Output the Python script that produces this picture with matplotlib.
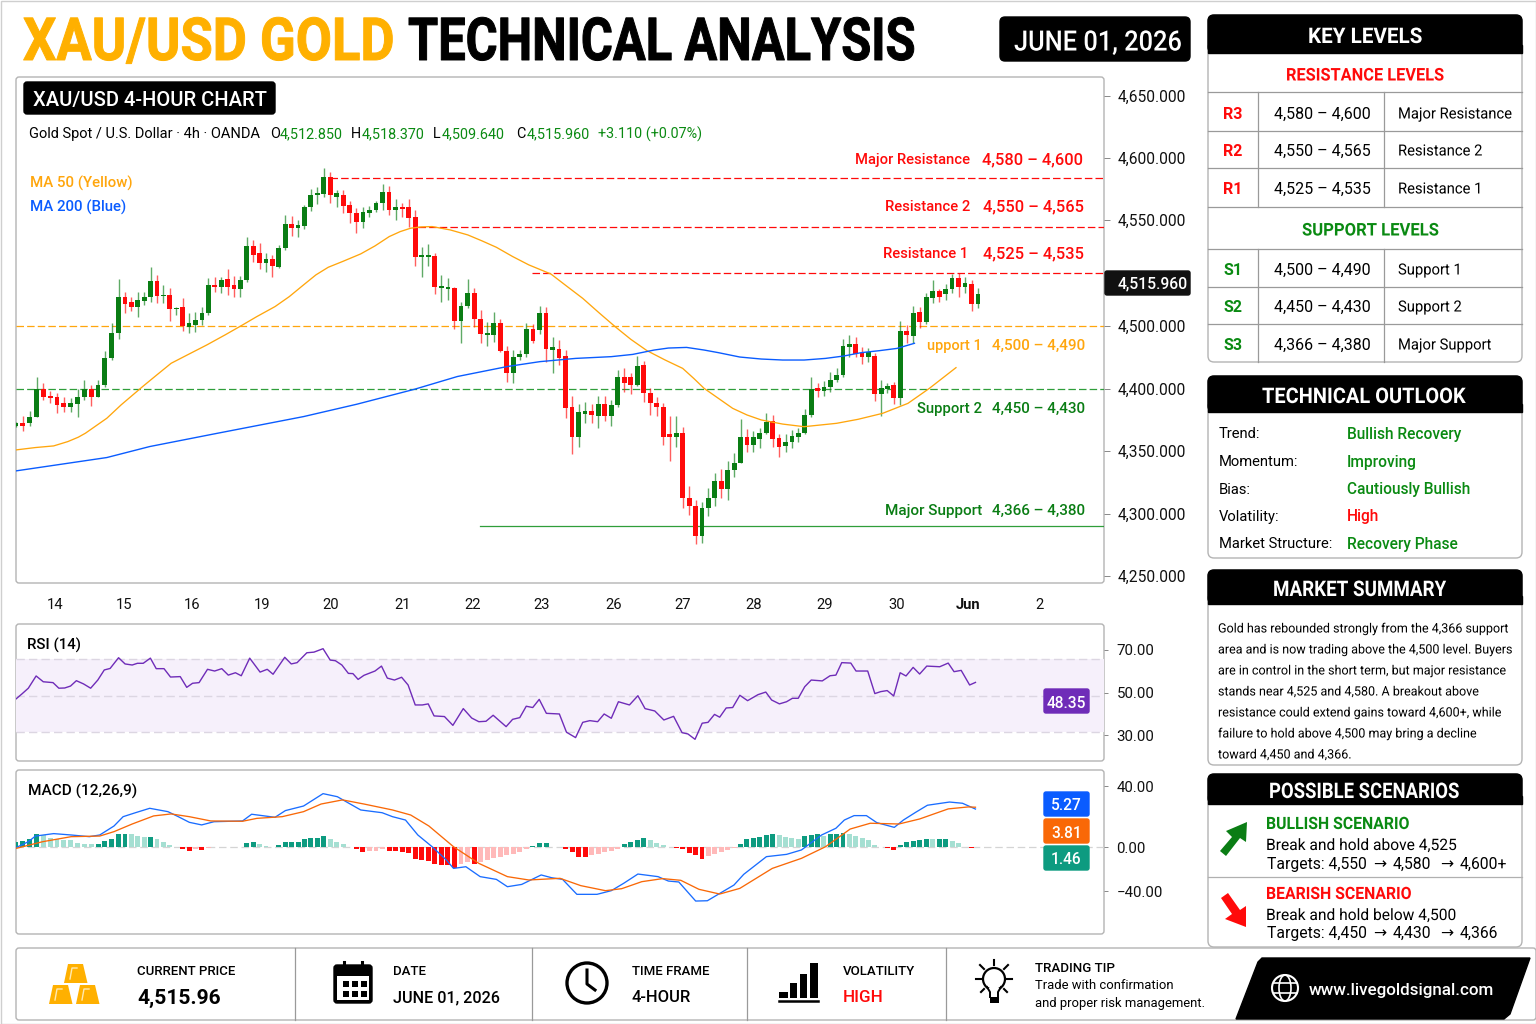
import numpy as np
import matplotlib
matplotlib.use('Agg')
import matplotlib.pyplot as plt
import matplotlib.patheffects as pe
from matplotlib.patches import FancyBboxPatch, Rectangle, Polygon, Circle, Ellipse
from matplotlib.transforms import Affine2D

plt.rcParams['font.family'] = ['Roboto', 'DejaVu Sans']

W, H = 1536, 1024

GREEN = '#0a7d14'
TXT_GREEN = '#0a8a12'
RED = '#ff0a0a'
GOLD = '#ffb000'
ORANGE = '#ffa60d'
BLUE = '#0a5cff'
PURPLE = '#6f2cb8'
TEAL = '#0d9b80'
TEAL_LIGHT = '#a5dfd2'
RED_LIGHT = '#ffb9b9'
EDGE = '#b4b4b4'

# candles, 4h bars. The axis in the picture is not evenly labelled,
# so tick positions and tick labels are kept apart below
opens = [4370.2, 4372.9, 4372.4, 4377.7, 4400.1, 4394.3, 4393.7, 4388.9, 4385.7, 4387.9,
         4393.2, 4399.6, 4393.7, 4403.1, 4424.4, 4444.5, 4473.3, 4469.6, 4465.8, 4470.6,
         4473.3, 4486.1, 4474.4, 4475.2, 4464.2, 4465.3, 4449.8, 4451.1, 4455.1, 4461.0,
         4483.4, 4481.8, 4487.7, 4483.4, 4479.7, 4487.2, 4514.4, 4508.5, 4501.1, 4504.0,
         4497.9, 4512.5, 4532.0, 4528.6, 4530.7, 4545.4, 4555.3, 4556.1, 4569.9, 4553.9,
         4555.3, 4547.0, 4541.1, 4533.9, 4540.6, 4543.3, 4548.6, 4557.9, 4543.3, 4545.4,
         4545.4, 4537.9, 4505.9, 4505.9, 4506.4, 4480.8, 4479.7, 4480.5, 4454.6, 4466.4,
         4477.0, 4456.2, 4442.9, 4443.1, 4452.5, 4430.6, 4413.0, 4425.2, 4427.9, 4447.7,
         4447.1, 4461.0, 4431.0, 4431.5, 4426.2, 4385.1, 4361.6, 4379.7, 4382.4, 4378.4,
         4387.8, 4378.1, 4386.7, 4409.1, 4409.1, 4403.2, 4418.7, 4396.8, 4388.3, 4385.6,
         4363.7, 4361.1, 4364.8, 4312.7, 4306.0, 4282.0, 4304.2, 4312.2, 4326.3, 4319.4,
         4334.9, 4340.8, 4361.1, 4354.9, 4359.5, 4364.8, 4373.9, 4360.3, 4354.1, 4357.3,
         4361.6, 4364.8, 4378.9, 4400.3, 4398.4, 4401.6, 4407.0, 4411.0, 4433.7, 4435.8,
         4428.3, 4425.7, 4426.2, 4395.8, 4399.5, 4403.0, 4392.6, 4446.5, 4442.2, 4461.5,
         4453.7, 4472.9, 4478.5, 4475.9, 4479.6, 4488.7, 4481.7, 4483.6, 4467.9]
closes = [4372.9, 4370.2, 4377.7, 4400.1, 4393.7, 4392.7, 4387.1, 4385.7, 4388.4, 4393.2,
          4399.6, 4393.7, 4403.1, 4424.4, 4444.5, 4473.3, 4468.0, 4465.8, 4471.2, 4473.3,
          4486.1, 4474.4, 4475.4, 4463.9, 4465.0, 4450.3, 4453.0, 4455.1, 4461.0, 4483.4,
          4481.8, 4487.2, 4481.3, 4479.7, 4487.2, 4514.4, 4507.2, 4500.5, 4504.0, 4498.4,
          4512.5, 4532.0, 4528.6, 4531.2, 4545.9, 4555.3, 4557.1, 4569.9, 4555.3, 4557.1,
          4546.5, 4540.6, 4533.9, 4541.6, 4543.3, 4548.6, 4557.9, 4543.3, 4545.4, 4543.8,
          4536.6, 4505.9, 4507.2, 4507.2, 4481.3, 4482.4, 4481.8, 4454.6, 4466.4, 4477.0,
          4456.2, 4443.9, 4445.0, 4452.5, 4430.6, 4413.0, 4425.2, 4427.9, 4447.7, 4438.6,
          4461.0, 4431.6, 4433.1, 4424.9, 4384.8, 4361.6, 4381.6, 4382.4, 4378.9, 4387.8,
          4378.1, 4387.2, 4409.1, 4404.8, 4403.2, 4418.2, 4396.8, 4388.8, 4385.1, 4361.6,
          4361.1, 4364.3, 4312.7, 4306.0, 4282.0, 4304.2, 4312.2, 4326.3, 4319.4, 4334.9,
          4340.8, 4361.1, 4354.9, 4361.1, 4364.8, 4373.3, 4359.5, 4353.0, 4357.3, 4362.1,
          4364.3, 4378.9, 4399.5, 4398.2, 4401.6, 4407.0, 4411.0, 4434.2, 4435.8, 4427.8,
          4425.1, 4429.4, 4395.8, 4400.3, 4402.4, 4392.6, 4446.5, 4443.0, 4460.9, 4453.7,
          4473.2, 4478.5, 4473.7, 4479.6, 4488.7, 4481.7, 4485.0, 4467.9, 4475.9]
highs = [4373.7, 4378.5, 4382.5, 4409.2, 4404.9, 4398.5, 4396.9, 4393.2, 4392.4, 4399.6,
         4407.1, 4402.8, 4407.1, 4430.6, 4452.5, 4487.7, 4477.6, 4473.3, 4477.8, 4477.8,
         4497.3, 4491.2, 4483.2, 4480.5, 4465.8, 4472.5, 4461.0, 4461.8, 4465.8, 4488.5,
         4489.3, 4489.8, 4495.7, 4490.4, 4490.4, 4521.4, 4519.2, 4516.5, 4509.1, 4507.2,
         4514.9, 4539.2, 4538.4, 4535.2, 4547.3, 4559.8, 4561.4, 4576.6, 4574.0, 4559.3,
         4559.3, 4550.7, 4544.6, 4545.9, 4546.5, 4550.7, 4564.1, 4562.5, 4551.8, 4548.6,
         4551.8, 4543.3, 4513.3, 4516.0, 4508.5, 4491.2, 4488.5, 4481.8, 4469.8, 4488.2,
         4480.5, 4463.1, 4453.8, 4461.8, 4455.7, 4434.3, 4431.1, 4431.1, 4452.5, 4452.0,
         4466.4, 4465.8, 4441.7, 4439.0, 4431.0, 4394.2, 4387.8, 4389.6, 4387.8, 4394.2,
         4394.2, 4391.0, 4415.0, 4416.3, 4412.3, 4426.2, 4422.5, 4400.3, 4393.6, 4388.8,
         4378.1, 4378.1, 4369.1, 4322.1, 4310.9, 4309.5, 4320.2, 4332.2, 4335.4, 4342.4,
         4348.8, 4375.5, 4367.5, 4366.4, 4368.3, 4380.8, 4378.9, 4363.7, 4363.7, 4366.9,
         4368.3, 4383.5, 4409.6, 4404.3, 4406.4, 4413.7, 4416.3, 4439.6, 4442.8, 4441.2,
         4433.1, 4432.3, 4428.3, 4407.0, 4404.3, 4405.6, 4454.5, 4451.0, 4466.3, 4465.2,
         4476.9, 4487.1, 4479.6, 4483.9, 4491.9, 4492.4, 4489.7, 4487.1, 4480.4]
lows = [4369.7, 4366.5, 4370.2, 4377.2, 4391.1, 4388.4, 4380.9, 4381.7, 4381.7, 4377.7,
        4391.1, 4386.3, 4393.2, 4401.7, 4423.1, 4439.7, 4460.5, 4462.6, 4457.8, 4466.9,
        4469.8, 4469.0, 4469.0, 4454.6, 4459.1, 4446.6, 4444.5, 4445.8, 4451.1, 4459.1,
        4477.8, 4477.0, 4475.2, 4473.8, 4473.3, 4485.8, 4501.9, 4495.7, 4493.9, 4489.3,
        4496.5, 4511.2, 4522.4, 4521.9, 4528.0, 4542.7, 4548.1, 4553.9, 4549.1, 4545.4,
        4540.6, 4532.6, 4524.6, 4528.6, 4537.4, 4541.9, 4543.3, 4539.2, 4535.2, 4537.9,
        4529.9, 4498.4, 4489.9, 4498.4, 4476.0, 4469.8, 4471.2, 4447.7, 4437.0, 4464.5,
        4449.8, 4436.5, 4434.3, 4437.8, 4429.8, 4405.7, 4404.9, 4423.1, 4425.8, 4436.5,
        4443.9, 4421.8, 4412.9, 4419.0, 4376.3, 4347.4, 4353.6, 4372.3, 4372.8, 4368.8,
        4374.4, 4370.4, 4385.6, 4397.6, 4395.8, 4402.2, 4389.6, 4378.9, 4378.1, 4354.9,
        4342.4, 4353.6, 4304.2, 4298.8, 4275.6, 4276.7, 4298.0, 4306.0, 4312.2, 4310.9,
        4329.0, 4340.8, 4349.6, 4349.6, 4352.2, 4363.7, 4353.0, 4345.6, 4349.6, 4352.2,
        4357.6, 4363.7, 4377.6, 4393.6, 4394.2, 4397.6, 4405.6, 4409.6, 4425.7, 4425.7,
        4419.8, 4421.7, 4390.4, 4378.1, 4396.3, 4387.8, 4387.0, 4436.9, 4436.9, 4448.4,
        4451.8, 4468.4, 4469.7, 4471.1, 4476.9, 4473.7, 4476.4, 4462.5, 4464.4]
# the candles are not quite evenly spaced in the picture: bar number -> place on the axis
spacing_bar = [0, 15, 47, 81, 102, 122, 136, 148]
spacing_pos = [-0.1, 15.7, 47.3, 81.55, 102.6, 122.4, 136.1, 148.1]

# moving averages
ma50_bar = [-0.1, 2.9, 5.7, 7.9, 9.5, 10.6, 11.7, 13.9, 16.1, 19.4, 21.6, 23.8, 26.6, 29.3, 32.1,
            34.8, 37.0, 39.8, 42.0, 44.2, 46.1, 48.0, 50.2, 53.0, 55.2, 57.4, 59.1, 60.7, 62.3,
            64.0, 66.8, 69.5, 71.7, 73.9, 76.4, 78.9, 82.3, 84.7, 87.2, 89.7, 92.2, 94.6, 97.1,
            99.9, 102.6, 104.3, 105.9, 108.1, 110.3, 112.5, 114.7, 118.0, 121.3, 126.3, 129.6,
            133.4, 137.3, 140.6, 144.7]
ma50 = [4351.0, 4352.9, 4354.2, 4357.7, 4361.2, 4364.4, 4368.4, 4376.4, 4387.1, 4401.7, 4411.1,
        4420.4, 4427.9, 4435.1, 4443.1, 4451.1, 4457.8, 4465.8, 4473.8, 4483.2, 4491.2, 4497.3,
        4501.9, 4508.0, 4514.4, 4521.9, 4525.9, 4528.6, 4529.6, 4529.9, 4527.2, 4523.2, 4518.4,
        4513.3, 4505.9, 4499.2, 4491.9, 4482.3, 4472.4, 4460.9, 4449.7, 4439.6, 4430.5, 4423.0,
        4416.3, 4408.3, 4400.3, 4392.3, 4384.3, 4379.0, 4375.0, 4371.7, 4369.6, 4372.3, 4375.5,
        4380.3, 4388.3, 4400.3, 4416.9]
ma200_bar = [-0.1, 13.9, 20.5, 30.4, 44.2, 52.4, 61.3, 67.9, 75.6, 80.6, 86.1, 91.6, 94.9, 98.2,
             100.4, 103.2, 105.9, 108.1, 111.4, 114.7, 118.0, 121.3, 124.6, 127.4, 130.1, 132.9,
             135.6, 138.3]
ma200 = [4334.2, 4344.9, 4353.7, 4363.8, 4377.7, 4387.6, 4399.6, 4409.8, 4417.8, 4421.7, 4424.3,
         4425.7, 4427.5, 4431.0, 4432.6, 4433.1, 4431.0, 4428.9, 4425.4, 4423.8, 4423.0, 4423.0,
         4424.3, 4426.2, 4428.9, 4430.5, 4432.3, 4436.4]

# horizontal levels as drawn
level_y = [4568.8, 4529.6, 4492.7, 4450.3, 4399.8, 4290.0]
level_from = [48.3, 61.8, 79.4, -0.1, -0.1, 71.4]
level_col = [RED, RED, RED, ORANGE, '#2f9e3a', '#2f9e3a']

price_ticks = [4634.5, 4584.8, 4535.2, 4450.3, 4399.8, 4350.1, 4299.7, 4250.0]
price_labels = ['4,650.000', '4,600.000', '4,550.000', '4,500.000', '4,400.000', '4,350.000',
                '4,300.000', '4,250.000']
day_ticks = [5.9, 16.5, 27.1, 37.8, 48.4, 59.4, 70.3, 80.9, 91.9, 102.6, 113.6, 124.5, 135.5,
             146.6, 157.5]
day_labels = ['14', '15', '16', '19', '20', '21', '22', '23', '26', '27', '28', '29', '30', 'Jun', '2']

rsi_bar = [-0.1, 0.8, 1.8, 3.0, 4.1, 5.6, 6.5, 7.4, 8.3, 9.2, 10.3, 11.4, 12.5, 13.5, 14.4, 15.7,
           16.7, 17.8, 18.6, 19.5, 20.6, 21.5, 22.7, 23.7, 25.2, 26.2, 27.1, 28.1, 29.4, 30.5,
           31.6, 32.6, 33.7, 34.6, 35.9, 37.5, 38.6, 39.5, 41.3, 42.3, 43.2, 44.7, 45.8, 47.2,
           48.3, 49.1, 50.1, 51.1, 51.8, 52.6, 53.5, 55.2, 56.2, 57.1, 58.2, 59.3, 60.3, 61.4,
           62.5, 63.4, 64.3, 65.9, 67.2, 68.8, 70.1, 71.2, 72.3, 73.4, 75.4, 76.4, 77.5, 78.5,
           79.5, 80.5, 81.6, 83.6, 84.7, 86.1, 87.2, 88.3, 89.5, 90.5, 91.6, 92.7, 94.4, 95.7,
           96.8, 98.3, 99.7, 101.2, 102.5, 103.4, 104.5, 105.6, 106.5, 107.5, 108.3, 109.3,
           110.3, 111.4, 112.6, 114.2, 115.4, 116.3, 117.5, 118.6, 119.5, 120.4, 121.4, 122.4,
           124.1, 125.3, 126.2, 127.1, 128.5, 129.3, 131.1, 132.2, 133.1, 134.1, 135.1, 136.1,
           137.0, 138.1, 139.1, 140.2, 142.2, 143.5, 144.4, 145.5, 146.8, 147.7]
rsi = [47.0, 49.3, 52.0, 57.7, 55.0, 54.6, 52.0, 52.1, 53.0, 55.5, 54.0, 52.0, 55.8, 60.5, 61.2,
       66.2, 63.3, 62.8, 63.6, 63.6, 66.0, 61.1, 61.1, 57.2, 57.4, 52.4, 54.3, 54.6, 60.8, 60.0,
       61.1, 58.1, 59.2, 57.8, 66.0, 59.5, 60.8, 58.5, 66.4, 63.3, 63.9, 68.5, 68.8, 70.4, 65.1,
       64.8, 62.8, 58.9, 58.8, 56.1, 58.0, 60.0, 62.3, 56.7, 55.8, 57.1, 53.5, 44.2, 44.2, 44.7,
       39.1, 38.8, 34.7, 42.5, 38.1, 36.4, 36.6, 39.4, 34.1, 37.5, 38.3, 43.6, 43.0, 46.8, 40.3,
       40.0, 31.5, 29.0, 36.1, 36.9, 36.4, 40.0, 38.0, 45.7, 44.2, 48.5, 42.5, 41.4, 37.2, 38.9,
       31.3, 30.7, 28.2, 35.7, 36.1, 39.8, 38.5, 42.8, 43.0, 48.7, 46.2, 49.0, 50.2, 46.5, 44.7,
       45.7, 47.3, 47.3, 52.7, 55.8, 55.4, 57.8, 58.1, 63.9, 63.7, 60.0, 60.0, 49.5, 50.4, 50.9,
       48.4, 59.2, 57.7, 61.7, 58.6, 62.3, 62.0, 63.7, 59.7, 60.3, 53.5, 54.7]
rsi_bands = [65.8, 48.6, 31.4]
rsi_ticks = [70, 50, 30]
rsi_labels = ['70.00', '50.00', '30.00']

macd_bar = [-0.1, 1.8, 2.9, 5.7, 8.4, 11.2, 12.8, 15.0, 16.4, 18.3, 20.5, 23.3, 24.9, 26.6, 28.5,
            30.4, 34.8, 36.2, 39.8, 41.4, 44.2, 47.2, 49.4, 53.0, 56.3, 57.9, 59.9, 61.8, 64.0,
            66.2, 67.3, 69.2, 71.4, 73.9, 75.6, 77.8, 80.8, 82.4, 84.1, 86.3, 89.4, 91.6, 93.5,
            95.7, 98.8, 100.4, 102.0, 104.6, 106.4, 110.5, 112.0, 115.5, 118.6, 120.9, 124.0,
            126.2, 127.5, 129.0, 130.9, 132.5, 135.2, 136.6, 138.5, 140.3, 143.7, 145.7, 147.7]
macd = [-0.4, 3.5, 7.2, 8.8, 7.9, 6.8, 7.9, 13.8, 19.9, 22.5, 25.4, 23.2, 19.9, 16.2, 14.5, 16.6,
        17.1, 21.5, 19.5, 23.9, 26.9, 35.0, 33.0, 24.3, 22.5, 19.9, 17.7, 7.9, 0.2, -8.5, -14.0,
        -12.9, -19.4, -21.2, -26.0, -24.5, -18.3, -20.1, -21.2, -31.0, -31.0, -28.6, -23.8, -17.7,
        -19.4, -22.3, -22.9, -35.4, -35.2, -24.9, -17.9, -6.3, -4.8, -1.9, 7.9, 12.3, 17.7, 20.6,
        20.6, 16.0, 12.9, 17.7, 22.8, 27.4, 29.5, 28.7, 24.9]
signal_bar = [-0.1, 4.0, 8.4, 12.8, 15.0, 17.8, 21.1, 23.8, 26.6, 29.9, 34.8, 37.0, 40.9, 44.2,
              46.9, 50.2, 53.5, 57.9, 60.7, 63.5, 67.3, 71.2, 75.6, 78.9, 83.7, 86.9, 90.7, 93.2,
              96.3, 99.5, 102.3, 105.1, 108.3, 111.4, 116.4, 120.9, 124.6, 128.4, 131.5, 135.9,
              139.1, 143.5, 146.6, 147.7]
signal = [-0.9, 3.5, 6.8, 7.2, 10.1, 15.1, 20.4, 21.7, 19.9, 17.1, 16.9, 18.8, 19.9, 23.2, 28.2,
          30.9, 28.2, 24.3, 21.0, 13.8, 0.2, -10.7, -19.4, -21.6, -20.5, -25.3, -28.6, -27.3,
          -22.7, -20.7, -21.8, -27.7, -30.8, -27.1, -14.0, -7.4, 0.2, 11.8, 15.6, 15.1, 18.4,
          25.0, 26.3, 26.1]
hist = [3.5, 3.9, 5.5, 8.3, 8.1, 6.1, 5.0, 4.6, 4.4, 2.8, 2.2, 1.7, 2.2, 3.9, 5.5, 8.7, 8.7, 8.3,
        7.4, 6.8, 6.8, 5.0, 3.3, 1.3, 0.2, -1.1, -2.4, -1.1, -2.2, -0.4, -0.2, 0.2, 0.2, 0.2, -0.2,
        2.8, 3.1, 1.7, 0.7, -0.2, 1.5, 3.3, 3.3, 3.5, 5.0, 5.9, 6.1, 7.0, 5.2, 3.5, 1.7, 0.2, -1.1,
        -3.3, -2.6, -2.4, -1.5, -2.4, -2.6, -3.1, -3.9, -7.7, -8.5, -9.2, -11.4, -11.8, -11.8,
        -13.6, -11.4, -9.8, -10.9, -9.6, -8.5, -7.0, -6.6, -5.5, -4.8, -3.3, -1.5, 0.7, 2.4, 2.4,
        -0.2, -0.2, -1.1, -3.3, -6.6, -6.8, -5.2, -4.6, -3.5, -2.4, -1.1, 1.7, 3.5, 4.4, 6.1, 4.8,
        2.6, 1.1, 0.2, -0.9, -1.3, -3.9, -5.5, -8.1, -6.1, -4.4, -3.5, -2.2, -0.4, 2.2, 5.2, 6.1,
        6.6, 8.1, 8.5, 8.1, 6.6, 5.9, 5.2, 7.0, 8.1, 8.7, 7.0, 8.7, 8.7, 9.2, 8.7, 7.0, 5.9, 4.8,
        1.1, 0.2, -0.9, -2.0, 1.5, 3.5, 3.7, 4.8, 5.5, 5.0, 5.0, 5.2, 3.7, 2.6, 0.1, -0.9]
macd_ticks = [40, 0, -29]
macd_labels = ['40.00', '0.00', '\u221240.00']

resist_rows = [('R3', '4,580 \u2013 4,600', 'Major Resistance'),
               ('R2', '4,550 \u2013 4,565', 'Resistance 2'),
               ('R1', '4,525 \u2013 4,535', 'Resistance 1')]
support_rows = [('S1', '4,500 \u2013 4,490', 'Support 1'),
                ('S2', '4,450 \u2013 4,430', 'Support 2'),
                ('S3', '4,366 \u2013 4,380', 'Major Support')]
outlook_names = ['Trend:', 'Momentum:', 'Bias:', 'Volatility:', 'Market Structure:']
outlook_vals = ['Bullish Recovery', 'Improving', 'Cautiously Bullish', 'High', 'Recovery Phase']
summary_lines = ['Gold has rebounded strongly from the 4,366 support',
                 'area and is now trading above the 4,500 level. Buyers',
                 'are in control in the short term, but major resistance',
                 'stands near 4,525 and 4,580. A breakout above',
                 'resistance could extend gains toward 4,600+, while',
                 'failure to hold above 4,500 may bring a decline',
                 'toward 4,450 and 4,366.']

fig = plt.figure(figsize=(W / 100, H / 100), dpi=100, facecolor='white')


class Reshape(pe.AbstractPathEffect):
    # the lettering in the picture is narrower than Roboto, no condensed face is installed
    def __init__(self, sx=1.0, sy=1.0, stroke=0.0):
        super().__init__()
        self.sx, self.sy, self.stroke = sx, sy, stroke

    def draw_path(self, renderer, gc, tpath, affine, rgbFace=None):
        gc0 = renderer.new_gc()
        gc0.copy_properties(gc)
        if self.stroke:
            gc0.set_foreground(rgbFace)
            gc0.set_linewidth(self.stroke)
        renderer.draw_path(gc0, tpath, Affine2D().scale(self.sx, self.sy) + affine, rgbFace)
        gc0.restore()


def page_axes(z):
    a = fig.add_axes([0, 0, 1, 1], zorder=z)
    a.set_xlim(0, W)
    a.set_ylim(H, 0)
    a.axis('off')
    a.patch.set_alpha(0)
    return a


def chart_axes(x0, y0, x1, y1):
    a = fig.add_axes([x0 / W, 1 - y1 / H, (x1 - x0) / W, (y1 - y0) / H], zorder=2)
    a.patch.set_alpha(0)
    for s in a.spines.values():
        s.set_visible(False)
    a.set_xlim(-0.1, 167.5)
    return a


back = page_axes(0)
front = page_axes(5)


def put(x, y, s, px, color='black', weight='normal', ha='left', va='center_baseline', sx=1.0, sy=1.0, stroke=0.0):
    # px is the font size in pixels of the 100 dpi picture
    t = front.text(x, y, s, fontsize=px * 0.72, color=color, fontweight=weight, ha=ha, va=va)
    if sx != 1.0 or sy != 1.0 or stroke:
        t.set_path_effects([Reshape(sx, sy, stroke)])
    return t


def rbox(x0, y0, x1, y1, r=4, fc='white', ec=EDGE, lw=1.0, ax=None, z=1):
    a = ax if ax is not None else back
    p = FancyBboxPatch((x0, y0), x1 - x0, y1 - y0, boxstyle='round,pad=0,rounding_size=%g' % r,
                       fc=fc, ec=ec, lw=lw, zorder=z)
    a.add_patch(p)
    return p


def card(x0, y0, x1, y1, head_bottom, title, title_x, sx):
    rbox(x0, y0, x1, y1, r=6)
    rbox(x0, y0, x1, head_bottom, r=6, fc='black', ec='black', z=2)
    back.add_patch(Rectangle((x0, head_bottom - 8), x1 - x0, 8, fc='black', ec='black', lw=1, zorder=2))
    put(title_x, (y0 + head_bottom) / 2 + 1.5, title, 21.5, color='white', weight='bold', sx=sx)


def tag(x0, y0, x1, y1, s, fc, px=15.5):
    rbox(x0, y0, x1, y1, r=2, fc=fc, ec=fc, ax=front, z=3)
    t = put((x0 + x1) / 2, (y0 + y1) / 2 + 0.5, s, px, color='white', weight='medium', ha='center')
    t.set_zorder(4)


# page frame and heading
back.add_patch(Rectangle((0.5, 0.5), W - 1, H - 1, fc='none', ec='#cfcfcf', lw=1))
put(23, 60, 'XAU/USD GOLD', 52.5, color=GOLD, weight='bold', va='baseline', sy=1.13, stroke=0.7)
put(408, 60, 'TECHNICAL ANALYSIS', 52.5, weight='bold', va='baseline', sx=0.93, sy=1.13, stroke=0.7)
rbox(1000, 17, 1190, 61, r=5, fc='black', ec='black')
put(1014, 40, 'JUNE 01, 2026', 28, color='white', weight='medium', sx=0.907)

# main price panel
rbox(16, 77, 1104, 583, r=3)
idx = np.interp(np.arange(len(opens)), spacing_bar, spacing_pos)
o, c = np.array(opens), np.array(closes)
cols = np.where(c >= o, GREEN, RED)

ax = chart_axes(16, 77, 1104, 583)
ax.set_ylim(4244.4, 4649.7)
for val, start, col in zip(level_y, level_from, level_col):
    style = '-' if val == level_y[-1] else (0, (6, 2.5))
    ax.plot([start, 167.5], [val, val], color=col, lw=0.9, ls=style, zorder=1)
ax.vlines(idx, lows, highs, colors=cols, lw=1.0, alpha=0.65, zorder=2)
ax.bar(idx, np.maximum(np.abs(c - o), 0.8), bottom=np.minimum(o, c), width=0.74, color=cols, lw=0, zorder=3)
ax.plot(ma50_bar, ma50, color=ORANGE, lw=0.95, zorder=4)
ax.plot(ma200_bar, ma200, color=BLUE, lw=1.0, zorder=4)
ax.yaxis.tick_right()
ax.set_yticks(price_ticks)
ax.set_yticklabels(price_labels, fontsize=11.2, color='#111111')
ax.tick_params(axis='y', length=4, width=0.7, color='#888888', pad=6)
ax.set_xticks(day_ticks)
ax.set_xticklabels(day_labels, fontsize=10.6, color='#111111')
ax.tick_params(axis='x', length=0, pad=10.6)
ax.get_xticklabels()[13].set_fontweight('bold')

rbox(24, 82, 275, 114, r=3, fc='black', ec='black', ax=front)
put(33, 98.5, 'XAU/USD 4-HOUR CHART', 20.2, color='white', weight='medium')
put(29, 132.5, 'Gold Spot / U.S. Dollar \u00b7 4h \u00b7 OANDA', 14.6)
for x, s, col in [(270, 'O', 'black'), (280, '4,512.850', TXT_GREEN), (351, 'H', 'black'),
                  (362, '4,518.370', TXT_GREEN), (433, 'L', 'black'), (442, '4,509.640', TXT_GREEN),
                  (516, 'C', 'black'), (527, '4,515.960', TXT_GREEN), (598, '+3.110 (+0.07%)', TXT_GREEN)]:
    put(x, 132.5, s, 14.4, color=col)
put(30, 182, 'MA 50 (Yellow)', 15, color=ORANGE, weight='medium')
put(30, 206, 'MA 200 (Blue)', 15, color=BLUE, weight='medium')

for name, rng, xn, xv, y, col, pn, pv in [('Major Resistance', '4,580 \u2013 4,600', 970, 1083, 158.7, RED, 14.7, 16.4),
                                          ('Resistance 2', '4,550 \u2013 4,565', 970, 1084, 205.7, RED, 14.8, 16.4),
                                          ('Resistance 1', '4,525 \u2013 4,535', 968, 1084, 252.7, RED, 14.8, 16.4),
                                          ('upport 1', '4,500 \u2013 4,490', 982, 1085, 344.5, ORANGE, 14.5, 15.3),
                                          ('Support 2', '4,450 \u2013 4,430', 982, 1085, 407.5, GREEN, 14.9, 15.3),
                                          ('Major Support', '4,366 \u2013 4,380', 982, 1085, 509.5, GREEN, 15.2, 15.3)]:
    put(xn, y, name, pn, color=col, weight='medium', ha='right')
    put(xv, y, rng, pv, color=col, weight='medium', ha='right')

rbox(1105, 271, 1190, 295, r=2, fc='#111111', ec='#111111', ax=front)
put(1153, 282.5, '4,515.960', 15.8, color='white', weight='medium', ha='center')

# RSI panel
rbox(16, 624, 1104, 761, r=3)
axr = chart_axes(16, 624, 1104, 761)
axr.set_ylim(18.1, 81.9)
axr.axhspan(rsi_bands[2], rsi_bands[0], color='#f6f0fb', lw=0, zorder=0)
for b in rsi_bands:
    axr.axhline(b, color='#dcd6e2', lw=1.0, ls=(0, (6, 3)), zorder=1)
axr.plot(rsi_bar, rsi, color=PURPLE, lw=1.0, zorder=3)
axr.set_xticks([])
axr.yaxis.tick_right()
axr.set_yticks(rsi_ticks)
axr.set_yticklabels(rsi_labels, fontsize=10.8, color='#111111')
axr.tick_params(axis='y', length=3, width=0.7, color='#888888', pad=6)
put(27, 644, 'RSI (14)', 15, weight='medium')
tag(1044, 689, 1089, 713, '48.35', PURPLE)

# MACD panel
rbox(16, 770, 1104, 934, r=3)
axm = chart_axes(16, 770, 1104, 934)
axm.set_ylim(-57, 50.5)
axm.axhline(0, color='#d4d4d4', lw=0.9, ls=(0, (6, 3)), zorder=0)
h = np.array(hist)
prev = np.r_[h[0], h[:-1]]
hcols = [(TEAL if v >= p else TEAL_LIGHT) if v >= 0 else (RED if v <= p else RED_LIGHT) for v, p in zip(h, prev)]
axm.bar(np.interp(np.arange(len(h)), spacing_bar, spacing_pos), h, width=0.76, color=hcols, lw=0, zorder=1)
axm.plot(macd_bar, macd, color='#1a6dff', lw=0.95, zorder=3)
axm.plot(signal_bar, signal, color='#f96807', lw=0.95, zorder=3)
axm.set_xticks([])
axm.yaxis.tick_right()
axm.set_yticks(macd_ticks)
axm.set_yticklabels(macd_labels, fontsize=10.8, color='#111111')
axm.tick_params(axis='y', length=3, width=0.7, color='#888888', pad=6)
put(28, 790, 'MACD (12,26,9)', 15.4, weight='medium')
tag(1044, 792, 1089, 816, '5.27', BLUE)
tag(1044, 819, 1089, 843, '3.81', '#f96807')
tag(1044, 846, 1089, 870, '1.46', TEAL)

# key levels card
card(1208, 15, 1522, 362, 53, 'KEY LEVELS', 1308, 0.96)
put(1286, 74.5, 'RESISTANCE LEVELS', 17.5, color=RED, weight='bold', sx=0.935)
put(1302, 229.5, 'SUPPORT LEVELS', 17.5, color=TXT_GREEN, weight='bold', sx=0.95)
for y in [92, 131, 168, 207, 249, 287, 324]:
    back.plot([1208, 1522], [y, y], color='#9a9a9a', lw=0.9, zorder=3)
for x in [1258, 1384]:
    back.plot([x, x], [92, 207], color='#9a9a9a', lw=0.9, zorder=3)
    back.plot([x, x], [249, 362], color='#9a9a9a', lw=0.9, zorder=3)
for rows, ys, col in [(resist_rows, [113, 150, 188], RED), (support_rows, [269, 306, 344], TXT_GREEN)]:
    for row, y in zip(rows, ys):
        put(1223, y, row[0], 16, color=col, weight='bold')
        put(1274, y, row[1], 16)
        put(1398, y, row[2], 15.4, sx=0.96)

# outlook card
card(1208, 376, 1522, 558, 412, 'TECHNICAL OUTLOOK', 1262, 0.93)
for y, n, v in zip([433, 460.5, 488, 515.5, 542.5], outlook_names, outlook_vals):
    put(1219, y, n, 14.8)
    put(1347, y, v, 15.5, color=RED if v == 'High' else TXT_GREEN, weight='medium')

# summary card
card(1208, 570, 1522, 765, 604, 'MARKET SUMMARY', 1273, 0.875)
for y, line in zip([627.5, 648.5, 669.5, 690.5, 711.5, 732.5, 753.5], summary_lines):
    put(1218, y, line, 12.9, sx=0.972)

# scenarios card
card(1208, 774, 1522, 947, 804, 'POSSIBLE SCENARIOS', 1269, 0.86)
back.plot([1208, 1522], [877, 877], color='#b0b0b0', lw=0.9, zorder=3)
for name, line, targets, y, col in [('BULLISH SCENARIO', 'Break and hold above 4,525',
                                     ['Targets: 4,550', '4,580', '4,600+'], 823, TXT_GREEN),
                                    ('BEARISH SCENARIO', 'Break and hold below 4,500',
                                     ['Targets: 4,450', '4,430', '4,366'], 893, RED)]:
    put(1266, y, name, 17, color=col, weight='bold', sx=0.93)
    put(1266, y + 21, line, 15.8, sx=0.985)
    y2 = y + 40 if col == TXT_GREEN else y + 39
    put(1267, y2, targets[0], 15.8)
    put(1373, y2, '\u2192', 15.8)
    put(1393, y2, targets[1], 15.8)
    put(1440, y2, '\u2192', 15.8)
    put(1460, y2, targets[2], 15.8)
front.add_patch(Polygon([(1220, 851), (1232, 837), (1226, 831), (1247, 822), (1246, 842), (1240, 838),
                         (1226, 856)], fc=GREEN, ec='none'))
front.add_patch(Polygon([(1221, 898), (1232, 914), (1225, 919), (1246, 927), (1246, 906), (1240, 910),
                         (1228, 893)], fc=RED, ec='none'))

# footer strip
rbox(16, 948, 1536, 1020, r=3)
for x in [295, 532, 747, 946]:
    back.plot([x, x], [948, 1020], color='#9a9a9a', lw=0.9, zorder=3)
back.add_patch(Polygon([(1262, 958), (1530, 958), (1510, 1014), (1504, 1019), (1236, 1019), (1258, 962)],
                       fc='black', ec='black', lw=1, zorder=4))

for x, s in [(137, 'CURRENT PRICE'), (393, 'DATE'), (632, 'TIME FRAME'), (843, 'VOLATILITY')]:
    put(x, 969.7, s, 13.2, weight='medium')
put(137, 996, '4,515.96', 21, weight='bold')
put(393, 996.2, 'JUNE 01, 2026', 16.1, weight='medium')
put(632, 996.2, '4-HOUR', 16.5, weight='medium')
put(843, 996.2, 'HIGH', 17, color=RED, weight='medium')
put(1035, 966.5, 'TRADING TIP', 13.4, weight='medium')
put(1035, 984, 'Trade with confirmation', 13)
put(1035, 1002, 'and proper risk management.', 13)
put(1309, 989, 'www.livegoldsignal.com', 17, color='white', weight='medium')

# icons: gold bars
for x0, y0 in [(64, 964), (49, 985), (76, 985)]:
    front.add_patch(Polygon([(x0 + 4, y0), (x0 + 19, y0), (x0 + 23.5, y0 + 19), (x0, y0 + 19)], fc=GOLD, ec='none'))
    front.plot([x0 + 6, x0 + 8, x0 + 13], [y0 + 15, y0 + 4, y0 + 4], color='#ffe9b0', lw=1)
# calendar
rbox(334, 965, 372, 1003, r=3, fc='black', ec='black', ax=front)
front.add_patch(Rectangle((337, 976), 32, 24, fc='white', ec='none', zorder=4))
for x in [344, 362]:
    front.plot([x, x], [962, 970], color='black', lw=2.2, zorder=5)
for x in [343, 352, 361]:
    for y in [981, 991]:
        front.add_patch(Rectangle((x, y), 6, 6, fc='black', ec='none', zorder=5))
# clock
front.add_patch(Circle((587, 983), 20, fc='none', ec='black', lw=2.4))
front.plot([587, 587, 595], [970, 984, 990], color='black', lw=2.2, solid_joinstyle='round')
# volatility bars
for x0, x1, y0 in [(779, 788, 992), (790, 797, 983), (800, 807, 974), (810, 818, 963)]:
    front.add_patch(Rectangle((x0, y0), x1 - x0, 998 - y0, fc='black', ec='none'))
front.plot([779, 818], [1001, 1001], color='black', lw=1.8)
# light bulb
front.add_patch(Circle((994, 979), 11, fc='white', ec='black', lw=1.6))
front.add_patch(Rectangle((989, 988), 10, 9, fc='white', ec='none', zorder=4))
front.plot([987, 990, 990], [987, 992, 997], color='black', lw=1.4, zorder=5)
front.plot([1001, 998, 998], [987, 992, 997], color='black', lw=1.4, zorder=5)
front.add_patch(Rectangle((989.5, 997), 9, 6, fc='black', ec='none', zorder=5))
for x0, y0, x1, y1 in [(994, 960, 994, 965), (980, 965, 984, 969), (1008, 965, 1004, 969), (976, 979, 981, 979),
                       (1012, 979, 1007, 979), (981, 992, 984, 989), (1007, 992, 1004, 989)]:
    front.plot([x0, x1], [y0, y1], color='black', lw=1.5)
# globe
front.add_patch(Circle((1285, 988), 13, fc='none', ec='white', lw=1.5, zorder=5))
front.add_patch(Ellipse((1285, 988), 12, 26, fc='none', ec='white', lw=1.2, zorder=5))
for y in [983, 993]:
    front.plot([1273.5, 1296.5], [y, y], color='white', lw=1.2, zorder=5)

front.set_xlim(0, W)
front.set_ylim(H, 0)
back.set_xlim(0, W)
back.set_ylim(H, 0)
fig.savefig('out.png', dpi=100)
